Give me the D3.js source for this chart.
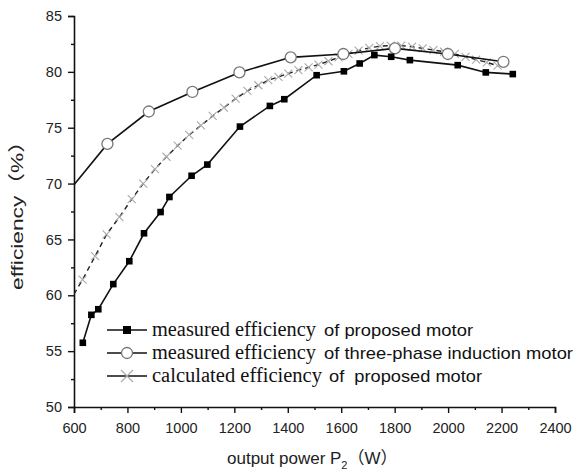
<!DOCTYPE html>
<html><head><meta charset="utf-8">
<script src="https://cdn.jsdelivr.net/npm/d3@7"></script>
<style>
body{margin:0;background:#fff;}
svg{display:block;}
</style></head>
<body>
<svg id="c" width="581" height="472"></svg>
<script>
// ---- data ----
const measuredProposed = [
  [633,55.75],[665,58.25],[691,58.75],[747,61.0],[807,63.05],[862,65.55],[924,67.45],[957,68.8],
  [1040,70.7],[1099,71.7],[1221,75.1],[1333,76.95],[1387,77.55],[1508,79.7],[1610,80.05],
  [1669,80.75],[1724,81.5],[1787,81.35],[1857,81.05],[2036,80.6],[2141,79.95],[2242,79.8]
];
const measuredInduction = [
  [600,69.9],[725,73.55],[880,76.45],[1043,78.2],[1219,79.95],[1411,81.3],[1608,81.6],
  [1801,82.1],[1999,81.6],[2207,80.9]
];
const calculatedProposed = [
  [600,60.1],[632,61.4],[679,63.5],[722,65.45],[770,67.0],[816,68.6],[859,70.0],[903,71.3],
  [946,72.4],[988,73.4],[1031,74.35],[1075,75.2],[1119,76.05],[1161,76.8],[1205,77.6],
  [1249,78.3],[1290,78.8],[1327,79.25],[1365,79.55],[1402,79.85],[1440,80.15],[1478,80.4],
  [1515,80.65],[1552,80.95],[1590,81.3],[1627,81.6],[1665,81.9],[1705,82.15],[1745,82.3],
  [1785,82.35],[1825,82.35],[1865,82.25],[1905,82.1],[1945,81.95],[1985,81.8],[2025,81.6],
  [2065,81.35],[2105,81.1],[2145,80.85],[2185,80.55]
];
const xTicks = [600,800,1000,1200,1400,1600,1800,2000,2200,2400];
const xMinor = [700,900,1100,1300,1500,1700,1900,2100,2300];
const yTicks = [50,55,60,65,70,75,80,85];
const yMinor = [52.5,57.5,62.5,67.5,72.5,77.5,82.5];
const xTitle = "output power P";
const yTitle = "efficiency（%）";

// ---- chart ----
const svg = d3.select("#c");
const x = d3.scaleLinear().domain([600,2400]).range([74,555]);
const y = d3.scaleLinear().domain([50,85]).range([407,16]);
const font = "'Liberation Sans', Arial, 'Noto Sans CJK SC', sans-serif";

// axes
const gx = svg.append("g").attr("transform","translate(0,407)")
  .call(d3.axisBottom(x).tickValues(xTicks).tickSize(6).tickPadding(6).tickFormat(d3.format("d")));
const gxm = svg.append("g").attr("transform","translate(0,407)")
  .call(d3.axisBottom(x).tickValues(xMinor).tickSize(3).tickFormat(""));
gxm.select(".domain").remove();
const gy = svg.append("g").attr("transform","translate(74,0)")
  .call(d3.axisLeft(y).tickValues(yTicks).tickSize(6).tickPadding(6));
const gym = svg.append("g").attr("transform","translate(74,0)")
  .call(d3.axisLeft(y).tickValues(yMinor).tickSize(3).tickFormat(""));
gym.select(".domain").remove();
svg.selectAll(".domain").attr("stroke","#111").attr("stroke-width",1.6);
svg.selectAll(".tick line").attr("stroke","#111").attr("stroke-width",1.4);
svg.selectAll(".tick text").attr("font-family",font).attr("font-size",14.5).attr("fill","#222");
gx.selectAll(".tick text").attr("dy","0.95em");

// clip
svg.append("clipPath").attr("id","pc").append("rect")
  .attr("x",74).attr("y",10).attr("width",490).attr("height",397);
const plot = svg.append("g").attr("clip-path","url(#pc)");

const line = d3.line().x(d=>x(d[0])).y(d=>y(d[1]));

// calculated (dashed, gray crosses)
plot.append("path").datum(calculatedProposed).attr("d",line)
  .attr("fill","none").attr("stroke","#222").attr("stroke-width",1.4).attr("stroke-dasharray","5,4");
const cs = 4;
plot.selectAll(".cx").data(calculatedProposed.filter(d=>d[0]>600)).enter().append("path")
  .attr("d",d=>{const px=x(d[0]),py=y(d[1]);return `M${px-cs},${py-cs}L${px+cs},${py+cs}M${px-cs},${py+cs}L${px+cs},${py-cs}`;})
  .attr("stroke","#aaa").attr("stroke-width",1.1).attr("fill","none");

// induction motor (circles)
plot.append("path").datum(measuredInduction).attr("d",line)
  .attr("fill","none").attr("stroke","#111").attr("stroke-width",1.6);
plot.selectAll(".ci").data(measuredInduction.filter(d=>d[0]>600)).enter().append("circle")
  .attr("cx",d=>x(d[0])).attr("cy",d=>y(d[1])).attr("r",5.5)
  .attr("fill","#fff").attr("stroke","#777").attr("stroke-width",1.3);

// measured proposed (squares)
plot.append("path").datum(measuredProposed).attr("d",line)
  .attr("fill","none").attr("stroke","#111").attr("stroke-width",1.6);
plot.selectAll(".sq").data(measuredProposed).enter().append("rect")
  .attr("x",d=>x(d[0])-3.3).attr("y",d=>y(d[1])-3.3).attr("width",6.6).attr("height",6.6)
  .attr("fill","#000");

// legend
const leg = svg.append("g");
const rows = [
  {yy:330, type:"sq", serif:"measured efficiency", serifW:164, sans:"of proposed motor", sx:324, sw:149},
  {yy:353, type:"ci", serif:"measured efficiency", serifW:164, sans:"of three-phase induction motor", sx:324, sw:249},
  {yy:376, type:"cx", serif:"calculated efficiency", serifW:170, sans:"of  proposed motor", sx:329, sw:153}
];
rows.forEach(r=>{
  leg.append("line").attr("x1",107).attr("x2",147).attr("y1",r.yy).attr("y2",r.yy)
    .attr("stroke","#111").attr("stroke-width",1.6);
  if(r.type==="sq") leg.append("rect").attr("x",123).attr("y",r.yy-4).attr("width",8).attr("height",8).attr("fill","#000");
  if(r.type==="ci") leg.append("circle").attr("cx",127).attr("cy",r.yy).attr("r",5.5).attr("fill","#fff").attr("stroke","#777").attr("stroke-width",1.3);
  if(r.type==="cx") leg.append("path").attr("d",`M121,${r.yy-6}L133,${r.yy+6}M121,${r.yy+6}L133,${r.yy-6}`).attr("stroke","#aaa").attr("stroke-width",1.2);
  leg.append("text").attr("x",152).attr("y",r.yy+6).text(r.serif)
    .attr("font-family","'Liberation Serif','Times New Roman',serif").attr("font-size",20)
    .attr("textLength",r.serifW).attr("lengthAdjust","spacingAndGlyphs").attr("fill","#111");
  leg.append("text").attr("x",r.sx).attr("y",r.yy+6).text(r.sans)
    .attr("font-family",font).attr("font-size",17).attr("xml:space","preserve")
    .attr("textLength",r.sw).attr("lengthAdjust","spacingAndGlyphs").attr("fill","#111");
});

// axis titles
const xt = svg.append("text").attr("x",227).attr("y",464)
  .attr("font-family",font).attr("font-size",17).attr("fill","#222");
xt.append("tspan").text(xTitle);
xt.append("tspan").text("2").attr("font-size",11).attr("dy",5);
xt.append("tspan").text("（W）").attr("dy",-5);
svg.append("text").attr("transform","translate(23,210) rotate(-90)").attr("text-anchor","middle")
  .attr("font-family",font).attr("font-size",17).attr("fill","#222")
  .attr("textLength",160).attr("lengthAdjust","spacingAndGlyphs").text(yTitle);
</script>
</body></html>
